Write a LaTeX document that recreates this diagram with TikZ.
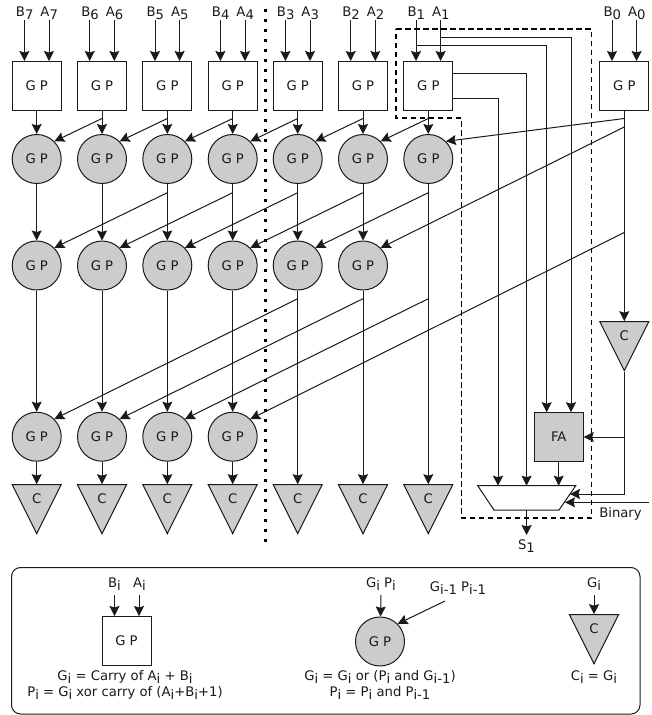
\documentclass[tikz,border=0pt]{standalone}
\usepackage{fontspec}
\setmainfont{DejaVu Sans}
\usetikzlibrary{arrows.meta,shapes.geometric,calc}
\newcommand{\sbx}[1]{\raisebox{-3pt}{#1}}
\definecolor{ink}{HTML}{1A1A1A}
\definecolor{fillgray}{HTML}{CCCCCC}
\tikzset{
  txt/.style={inner sep=0pt,text=ink,font=\fontsize{13.2}{15.8}\selectfont,align=center},
  gpbox/.style={draw=ink,line width=1pt,fill=white,minimum width=49pt,minimum height=49pt,inner sep=0pt,txt},
  gpcirc/.style={draw=ink,line width=1pt,fill=fillgray,circle,minimum size=49pt,inner sep=0pt,txt},
  fabox/.style={draw=ink,line width=1pt,fill=fillgray,minimum width=49pt,minimum height=49pt,inner sep=0pt,txt},
  tri/.style={draw=ink,line width=1pt,fill=fillgray,isosceles triangle,isosceles triangle stretches=true,
    shape border rotate=270,minimum width=49pt,minimum height=49pt,inner sep=0pt,anchor=apex},
  wire/.style={draw=ink,line width=1pt},
  arr/.style={wire,-{Stealth[length=10pt,width=10pt,inset=1.5pt]}},
  dashbox/.style={draw=black,line width=1.6pt,dash pattern=on 5.5pt off 3.5pt},
  dotline/.style={draw=black,line width=3pt,dash pattern=on 3pt off 7pt},
  frame/.style={draw=ink,line width=1pt,rounded corners=9pt},
  muxshape/.style={draw=ink,line width=1pt,fill=white}
}
\begin{document}
\begin{tikzpicture}[x=1pt,y=-1pt]
\useasboundingbox (0,0) rectangle (652,715);
% dashed region and divider
\coordinate (d1) at (396,29); \coordinate (d2) at (591.5,29); \coordinate (d3) at (591.5,518);
\coordinate (d4) at (461.5,518); \coordinate (d5) at (461.5,118); \coordinate (d6) at (396,118);
\draw[dashbox] (d1) -- (d2) -- (d3) -- (d4) -- (d5) -- (d6) -- cycle;
\coordinate (dv1) at (265.7,9); \coordinate (dv2) at (265.7,542);
\draw[dotline] (dv1) -- (dv2);
% input blocks and first row
\foreach \n/\x in {7/36.7,6/102,5/167.3,4/232.7,3/297.7,2/363,1/428.3,0/624.3}{
  \node[gpbox] (b\n) at (\x,85.5) {G P};
  \node[txt] (lb\n) at (\x-12,13) {B\sbx{\n}};
  \node[txt] (la\n) at (\x+12.5,13) {A\sbx{\n}};
  \coordinate (ib\n) at (\x-12.3,20);
  \coordinate (ia\n) at (\x+12.3,20);
  \coordinate (tb\n) at (\x-12.3,61);
  \coordinate (ta\n) at (\x+12.3,61);
  \draw[arr] (ib\n) -- (tb\n);
  \draw[arr] (ia\n) -- (ta\n);
  \coordinate (j\n) at (\x,118.5);
}
\foreach \n/\x in {7/36.7,6/102,5/167.3,4/232.7,3/297.7,2/363,1/428.3}{
  \node[gpcirc] (p\n) at (\x,159) {G P};
  \draw[arr] (b\n) -- (p\n);
  \coordinate (k\n) at (\x,192.7);
  \coordinate (m\n) at (\x,298.7);
}
\foreach \n/\x in {7/36.7,6/102,5/167.3,4/232.7,3/297.7,2/363}{
  \node[gpcirc] (q\n) at (\x,265.5) {G P};
  \draw[arr] (p\n) -- (q\n);
}
\foreach \n/\x in {7/36.7,6/102,5/167.3,4/232.7}{
  \node[gpcirc] (r\n) at (\x,436.7) {G P};
  \draw[arr] (q\n) -- (r\n);
}
% carry triangles
\foreach \n/\x/\s in {7/36.7/r,6/102/r,5/167.3/r,4/232.7/r,3/297.7/q,2/363/q,1/428.3/p}{
  \node[tri] (c\n) at (\x,535) {};
  \node[txt] (ct\n) at (\x,499) {C};
  \draw[arr] (\s\n) -- (c\n.lower side);
}
% diagonal first row
\foreach \a/\b in {6/7,5/6,4/5,3/4,2/3,1/2,0/1}{\draw[arr] (j\a) -- (p\b.north east);}
% diagonal second row
\foreach \a/\b in {5/7,4/6,3/5,2/4,1/3}{\draw[arr] (k\a) -- (q\b.north east);}
\coordinate (j0b) at (624.3,127);
\draw[arr] (j0b) -- (q2.north east);
% diagonal third row
\foreach \a/\b in {3/7,2/6,1/5}{\draw[arr] (m\a) -- (r\b.north east);}
\coordinate (j0c) at (624.3,232.5);
\draw[arr] (j0c) -- (r4.north east);
% carry block of bit zero
\node[tri] (c0) at (624.3,372) {};
\node[txt] (ct0) at (624.3,336) {C};
\draw[arr] (b0) -- (c0.lower side);
% full adder and selector
\node[fabox] (fa) at (558.7,436.7) {FA};
\coordinate (mxa) at (477.7,485.7);
\coordinate (mxb) at (575.7,485.7);
\coordinate (mxc) at (559,510);
\coordinate (mxd) at (494,510);
\draw[muxshape] (mxa) -- (mxb) -- (mxc) -- (mxd) -- cycle;
\coordinate (mt1) at (498,485.7);
\coordinate (mt2) at (526.6,485.7);
\coordinate (mt3) at (558.7,485.7);
\coordinate (ms1) at (570,494);
\coordinate (ms2) at (565,502.3);
\coordinate (fat1) at (546.7,412.2);
\coordinate (fat2) at (571,412.2);
\coordinate (ot1) at (571,37);
\coordinate (ot2) at (546.7,45);
\coordinate (ot3) at (526.6,73.3);
\coordinate (ot4) at (498,98);
\coordinate (sa) at (b1.east |- ot3);
\coordinate (sb) at (b1.east |- ot4);
\coordinate (la) at (ia1 |- ot1);
\coordinate (lb) at (ib1 |- ot2);
\draw[arr] (la) -- (ot1) -- (fat2);
\draw[arr] (lb) -- (ot2) -- (fat1);
\draw[arr] (sa) -- (ot3) -- (mt2);
\draw[arr] (sb) -- (ot4) -- (mt1);
\draw[arr] (fa) -- (mt3);
\coordinate (ca) at (624.3,437);
\coordinate (cb) at (624.3,494);
\draw[arr] (ca) -- (fa.east |- ca);
\draw[arr] (c0.apex) -- (cb) -- (ms1);
\coordinate (bin) at (649,502.3);
\draw[arr] (bin) -- (ms2);
\node[txt] (bint) at (620.5,514) {Binary};
\coordinate (mo) at (526.6,535);
\coordinate (mi) at (526.6,510);
\draw[arr] (mi) -- (mo);
\node[txt] (s1) at (526.5,546) {S\sbx{1}};
% legend
\draw[frame] (11.5,567.5) rectangle (640,714) ;
\node[gpbox] (lgb) at (126.5,640.5) {G P};
\node[txt] (lgbb) at (114.5,584) {B\sbx{i}};
\node[txt] (lgba) at (139.5,584) {A\sbx{i}};
\coordinate (lg1) at (114.5,595); \coordinate (lg2) at (139,595);
\coordinate (lg1e) at (114.5,616); \coordinate (lg2e) at (139,616);
\draw[arr] (lg1) -- (lg1e);
\draw[arr] (lg2) -- (lg2e);
\node[txt] (lgbt) at (125,685) {G\sbx{i} = Carry of A\sbx{i} + B\sbx{i}\\P\sbx{i} = G\sbx{i} xor carry of (A\sbx{i}+B\sbx{i}+1)};
\node[gpcirc] (lgc) at (380,641.5) {G P};
\node[txt] (lgct) at (381,584) {G\sbx{i} P\sbx{i}};
\node[txt] (lgcu) at (458,588) {G\sbx{i-1} P\sbx{i-1}};
\coordinate (lg3) at (381,595);
\coordinate (lg4) at (445,601);
\draw[arr] (lg3) -- (lgc);
\draw[arr] (lg4) -- (lgc.north east);
\node[txt] (lgctx) at (380,685) {G\sbx{i} = G\sbx{i} or (P\sbx{i} and G\sbx{i-1})\\P\sbx{i} = P\sbx{i} and P\sbx{i-1}};
\node[tri] (lgt) at (594,665) {};
\node[txt] (lgtc) at (594,629) {C};
\node[txt] (lgtg) at (594,584) {G\sbx{i}};
\coordinate (lg5) at (594,595);
\draw[arr] (lg5) -- (lgt.lower side);
\node[txt] (lgtt) at (594,677) {C\sbx{i} = G\sbx{i}};
\end{tikzpicture}
\end{document}
